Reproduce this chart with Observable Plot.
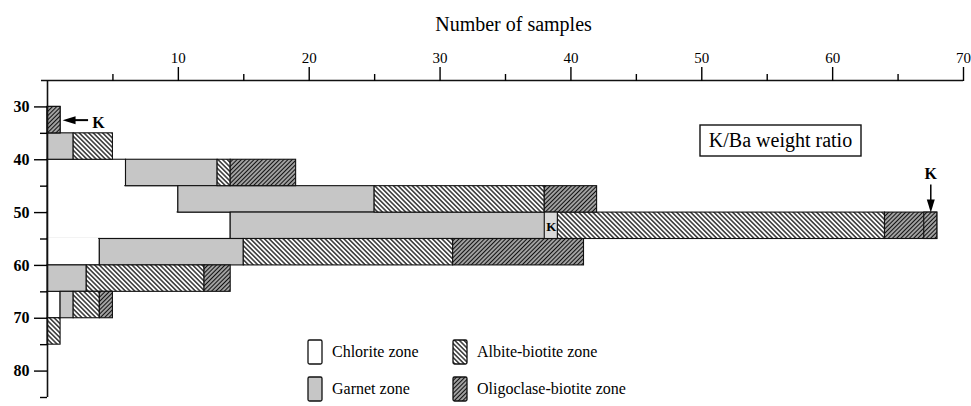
<!DOCTYPE html>
<html>
<head>
<meta charset="utf-8">
<script src="https://cdn.jsdelivr.net/npm/d3@7"></script>
<script src="https://cdn.jsdelivr.net/npm/@observablehq/plot@0.6"></script>
<style>
  html, body { margin: 0; padding: 0; background: white; }
  #chart svg { display: block; }
</style>
</head>
<body>
<div id="chart"></div>
<script>
// ---- data ----
const bins = [30, 35, 40, 45, 50, 55, 60, 65, 70];   // lower edge of K/Ba class
const binWidth = 5;
const zones = ["Chlorite zone", "Garnet zone", "Albite-biotite zone", "Oligoclase-biotite zone"];
const chlorite   = [0, 0, 6, 10, 14, 4, 0, 1, 0];
const garnet     = [0, 2, 7, 15, 25, 11, 3, 1, 0];
const albite     = [0, 3, 1, 13, 25, 16, 9, 2, 1];
const oligoclase = [1, 0, 5, 4, 4, 10, 2, 1, 0];
// K-feldspar bearing samples (last sample of the zone segment in that class)
const kBins   = [30, 50, 50];
const kZones  = [3, 1, 3];
const kMarker = ["left", "inside", "down"];
const xMajor = [10, 20, 30, 40, 50, 60, 70];
const xMinor = [5, 15, 25, 35, 45, 55, 65];
const yMajor = [30, 40, 50, 60, 70, 80];
const yMinor = [35, 45, 55, 65, 75, 85];
const xTitle = "Number of samples";
const boxTitle = "K/Ba weight ratio";

// ---- build stacked table ----
const series = [chlorite, garnet, albite, oligoclase];
const rows = [];
bins.forEach((lo, i) => {
  let cum = 0;
  series.forEach((s, z) => {
    const n = s[i];
    if (n > 0) rows.push({lo, hi: lo + binWidth, zone: z, x1: cum, x2: cum + n});
    cum += n;
  });
});
const kRows = kBins.map((b, j) => {
  const r = rows.find(d => d.lo === b && d.zone === kZones[j]);
  return {lo: r.lo, hi: r.hi, zone: r.zone, x1: r.x2 - 1, x2: r.x2, mark: kMarker[j]};
});
// shared edges between consecutive chlorite (blank) segments are not drawn
const blankJoins = [];
bins.forEach((lo, i) => {
  if (i + 1 < bins.length) {
    const w = Math.min(chlorite[i], chlorite[i + 1]);
    if (w > 0) blankJoins.push({y: lo + binWidth, x2: w});
  }
});

const fills = ["white", "url(#pGarnet)", "url(#pAlbite)", "url(#pOligo)"];

// arrowhead symbol: tip at origin, pointing down
const arrowHead = {
  draw(ctx) {
    ctx.moveTo(0, 0);
    ctx.lineTo(-4, -13);
    ctx.lineTo(4, -13);
    ctx.closePath();
  }
};

const leftK = kRows.filter(d => d.mark === "left");
const downK = kRows.filter(d => d.mark === "down");
const insideK = kRows.filter(d => d.mark === "inside");

const plot = Plot.plot({
  width: 971,
  height: 406,
  marginLeft: 47,
  marginRight: 8,
  marginTop: 80,
  marginBottom: 9,
  x: {domain: [0, 70]},
  y: {domain: [25, 85], reverse: true},
  style: {fontFamily: "'Liberation Serif', serif", background: "white", color: "black"},
  marks: [
    ...zones.map((z, zi) => Plot.rect(rows.filter(d => d.zone === zi), {
      x1: "x1", x2: "x2", y1: "lo", y2: "hi",
      fill: fills[zi], stroke: "#111", strokeWidth: 1.1
    })),
    Plot.ruleY(blankJoins, {y: "y", x1: 0, x2: "x2", insetRight: 1.2, stroke: "white", strokeWidth: 3.2}),
    Plot.rect(kRows, {
      x1: "x1", x2: "x2", y1: "lo", y2: "hi",
      fill: d => d.zone === 1 ? "url(#pGarnetLight)" : fills[d.zone],
      stroke: "#111", strokeWidth: 1.1
    }),
    Plot.text(insideK, {
      x: d => (d.x1 + d.x2) / 2, y: d => (d.lo + d.hi) / 2, text: () => "K",
      fontSize: 13, fontWeight: "bold", dy: 1
    }),
    // left-pointing arrow
    Plot.link(leftK, {
      x1: d => d.x2 + 2.1, x2: d => d.x2 + 0.6,
      y1: d => (d.lo + d.hi) / 2, y2: d => (d.lo + d.hi) / 2,
      stroke: "black", strokeWidth: 2
    }),
    Plot.dot(leftK, {
      x: "x2", y: d => (d.lo + d.hi) / 2, dx: 2,
      symbol: arrowHead, rotate: 90, fill: "black", stroke: "none", r: 4
    }),
    Plot.text(leftK, {
      x: d => d.x2 + 2.9, y: d => (d.lo + d.hi) / 2, dy: 3, text: () => "K",
      fontSize: 16, fontWeight: "bold"
    }),
    // down-pointing arrow
    Plot.link(downK, {
      x1: d => (d.x1 + d.x2) / 2, x2: d => (d.x1 + d.x2) / 2,
      y1: d => d.lo - 5.3, y2: d => d.lo - 1.5,
      stroke: "black", strokeWidth: 1.5
    }),
    Plot.dot(downK, {
      x: d => (d.x1 + d.x2) / 2, y: "lo",
      symbol: arrowHead, rotate: 0, fill: "black", stroke: "none", r: 4
    }),
    Plot.text(downK, {
      x: d => (d.x1 + d.x2) / 2, y: d => d.lo - 7.3, text: () => "K",
      fontSize: 16, fontWeight: "bold"
    }),
    // axes
    Plot.ruleY([25], {insetLeft: -6, stroke: "#111", strokeWidth: 1.6}),
    Plot.ruleX([0], {stroke: "#111", strokeWidth: 1.6}),
    Plot.axisX({anchor: "top", ticks: xMajor, tickSize: 14, tickPadding: 4, label: null,
      fontSize: 15, strokeWidth: 1.4}),
    Plot.axisX({anchor: "top", ticks: xMinor, tickSize: 7, tickFormat: () => "", label: null,
      strokeWidth: 1.4}),
    Plot.axisY({anchor: "left", ticks: yMajor, tickSize: 13, tickPadding: 5, label: null,
      fontSize: 16, fontWeight: "bold", strokeWidth: 1.4}),
    Plot.axisY({anchor: "left", ticks: yMinor, tickSize: 7, tickFormat: () => "", label: null,
      strokeWidth: 1.4}),
    Plot.text([xTitle], {frameAnchor: "top", dx: 8, dy: -64, fontSize: 20})
  ]
});

// ---- patterns ----
const svg = d3.select(plot);
const defs = svg.insert("defs", ":first-child");
function solid(id, color) {
  const p = defs.append("pattern").attr("id", id).attr("patternUnits", "userSpaceOnUse")
    .attr("width", 4).attr("height", 4);
  p.append("rect").attr("width", 4).attr("height", 4).attr("fill", color);
}
solid("pGarnet", "#c6c6c6");
solid("pGarnetLight", "#dadada");
function hatch(id, size, angle, lw) {
  const p = defs.append("pattern").attr("id", id).attr("patternUnits", "userSpaceOnUse")
    .attr("width", size).attr("height", size)
    .attr("patternTransform", `rotate(${angle})`);
  p.append("rect").attr("width", size).attr("height", size).attr("fill", "white");
  p.append("line").attr("x1", size / 2).attr("x2", size / 2).attr("y1", -1).attr("y2", size + 1)
    .attr("stroke", "#111").attr("stroke-width", lw);
}
hatch("pAlbite", 3.3, -45, 1.3);
hatch("pOligo", 3.0, 45, 1.8);

// ---- boxed label ----
const bx = svg.append("g");
bx.append("rect").attr("x", 700).attr("y", 125).attr("width", 161).attr("height", 31)
  .attr("fill", "white").attr("stroke", "#111").attr("stroke-width", 1.4);
bx.append("text").attr("x", 780.5).attr("y", 147).attr("text-anchor", "middle")
  .attr("font-size", 20).attr("fill", "black").text(boxTitle);

// ---- legend ----
const legendPos = [[308, 340], [308, 377], [453, 340], [453, 377]];
const lg = svg.append("g").attr("text-anchor", "start");
zones.forEach((z, i) => {
  const [lx, ly] = legendPos[i];
  lg.append("rect").attr("x", lx).attr("y", ly).attr("width", 14).attr("height", 24)
    .attr("rx", 1.5).attr("fill", fills[i]).attr("stroke", "#111").attr("stroke-width", 1.3);
  lg.append("text").attr("x", lx + 24).attr("y", ly + 17).attr("font-size", 16)
    .attr("text-anchor", "start").attr("fill", "black").text(z);
});

document.getElementById("chart").appendChild(plot);
</script>
</body>
</html>
